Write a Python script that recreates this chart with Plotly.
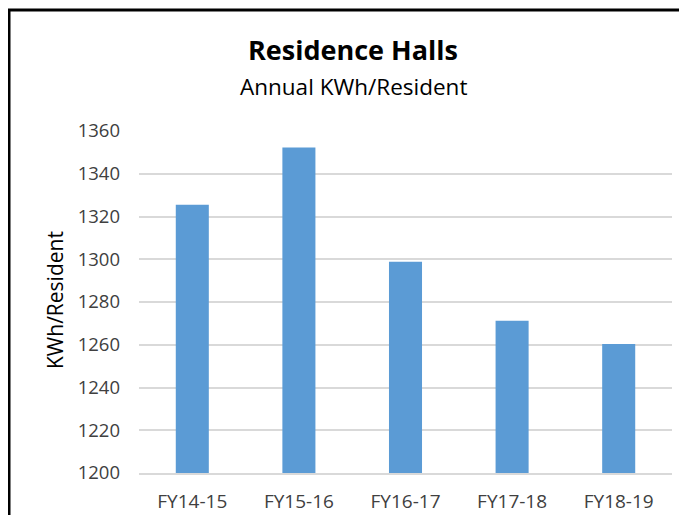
import plotly.graph_objects as go

categories = ["FY14-15", "FY15-16", "FY16-17", "FY17-18", "FY18-19"]
kwh_per_resident = [1325.5, 1352.3, 1298.8, 1271.2, 1260.4]
y_ticks = [1200, 1220, 1240, 1260, 1280, 1300, 1320, 1340, 1360]

# page body adds an 8px offset, so the figure is sized to fit the window
OFF = 8
W, H = 671, 507
ML, MT = 131, 123
PLOT_R, PLOT_B = 672, 473  # window pixels of the plot area's right and bottom edges
MR = W - (PLOT_R - OFF)
MB = H - (PLOT_B - OFF)
PW = W - ML - MR
PH = H - MT - MB

def px_x(p):  # p = window pixel
    return (p - OFF - ML) / PW

def px_y(p):
    return (H - MB - (p - OFF)) / PH

FONT = "Open Sans"

fig = go.Figure(
    go.Bar(
        x=categories,
        y=kwh_per_resident,
        marker=dict(color="#5b9bd5", line=dict(width=0)),
        width=0.31,
    )
)

fig.update_layout(
    width=W,
    height=H,
    margin=dict(l=ML, r=MR, t=MT, b=MB, autoexpand=False),
    paper_bgcolor="white",
    plot_bgcolor="white",
    showlegend=False,
    font=dict(family=FONT, color="#595959", size=16),
)

fig.update_yaxes(
    range=[1200, 1360],
    tickvals=y_ticks,
    showgrid=True,
    gridcolor="#d9d9d9",
    gridwidth=1.5,
    zeroline=False,
    showline=False,
    ticks="",
    automargin=False,
    ticklabelstandoff=18,
    tickfont=dict(family=FONT, size=18.5, color="#404040"),
)
fig.update_xaxes(
    showgrid=False,
    showline=True,
    linecolor="#d9d9d9",
    linewidth=1.5,
    ticks="",
    automargin=False,
    ticklabelstandoff=10,
    tickfont=dict(family=FONT, size=19, color="#404040"),
)

fig.add_annotation(
    text="<b>Residence Halls</b>",
    xref="paper", yref="paper",
    x=px_x(353), y=px_y(50),
    xanchor="center", yanchor="middle",
    showarrow=False,
    font=dict(family=FONT, size=27, color="black"),
)
fig.add_annotation(
    text="Annual KWh/Resident",
    xref="paper", yref="paper",
    x=px_x(353), y=px_y(86),
    xanchor="center", yanchor="middle",
    showarrow=False,
    font=dict(family=FONT, size=22.5, color="black"),
)
fig.add_annotation(
    text="KWh/Resident",
    xref="paper", yref="paper",
    x=px_x(55), y=px_y(300),
    xanchor="center", yanchor="middle",
    textangle=-90,
    showarrow=False,
    font=dict(family=FONT, size=21, color="black"),
)

# chart frame (top and left edges visible), one open path
bx, by = px_x(9), px_y(10)
fig.add_shape(
    type="path", xref="paper", yref="paper",
    path=f"M {bx},{px_y(530)} L {bx},{by} L {px_x(679)},{by}",
    line=dict(color="black", width=3),
    fillcolor="rgba(0,0,0,0)",
)

fig.write_html("out.html")
